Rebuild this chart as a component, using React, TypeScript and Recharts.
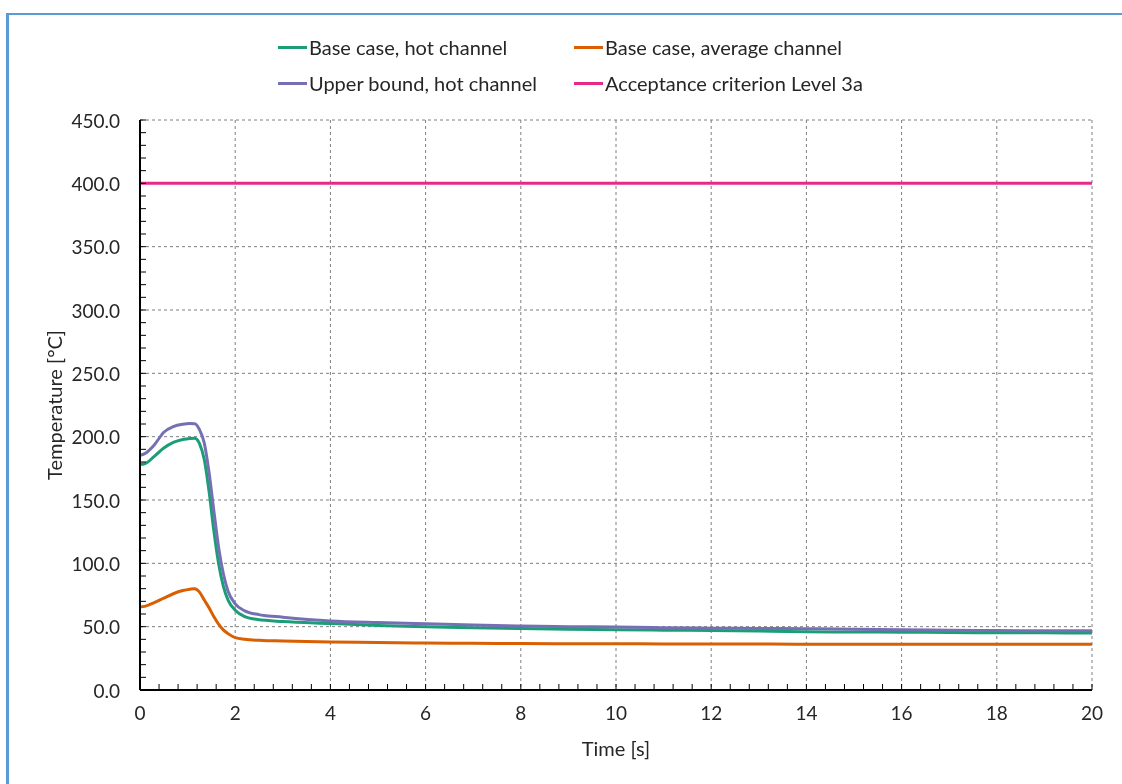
import React from "react";
import {
  LineChart,
  Line,
  XAxis,
  YAxis,
  CartesianGrid,
  Legend,
} from "recharts";

// time samples [s]
const timeS = [
  0, 0.1, 0.3, 0.5, 0.7, 0.9, 1.05, 1.15, 1.25, 1.35, 1.45, 1.55, 1.65, 1.75,
  1.85, 2.0, 2.2, 2.5, 3, 4, 5, 6, 7, 8, 9, 10, 11, 12, 13, 14, 15, 16, 17, 18,
  19, 20,
];

// temperatures [°C]
const baseHot = [
  178.1, 178.6, 184.5, 191, 195.5, 197.8, 198.6, 198.8, 194.5, 182, 157, 126,
  100, 82, 71, 63, 58, 55.5, 54, 52.5, 51, 50, 49.2, 48.5, 48, 47.6, 47.2, 47,
  46.5, 46, 45.8, 45.6, 45.4, 45.2, 45.1, 45,
];
const baseAvg = [
  65.5, 66, 69, 72.5, 76, 78.5, 79.6, 80, 77.3, 71, 65, 58, 52, 47.5, 44.5,
  41.3, 40, 39.2, 38.7, 37.9, 37.5, 37.1, 36.9, 36.7, 36.5, 36.5, 36.4, 36.4,
  36.3, 36.1, 36.1, 36.1, 36.1, 36.1, 36.1, 36.1,
];
const upperHot = [
  185.2, 186.6, 193.5, 203.5, 208, 209.8, 210.3, 210.2, 205.5, 195, 172, 142,
  113, 92, 78, 68, 62.5, 59.5, 57.5, 54.5, 53.2, 52.3, 51.3, 50.5, 50, 49.7,
  49.2, 48.8, 48.6, 48.4, 48, 47.6, 47.2, 46.9, 46.8, 46.8,
];
const acceptanceLevel = 400;

const seriesNames = [
  "Base case, hot channel",
  "Base case, average channel",
  "Upper bound, hot channel",
  "Acceptance criterion Level 3a",
];
const seriesColors = ["#1B9E77", "#D95F02", "#7570B3", "#E7298A"];

const yMajorTicks = [0, 50, 100, 150, 200, 250, 300, 350, 400, 450];
const xMajorTicks = [0, 2, 4, 6, 8, 10, 12, 14, 16, 18, 20];
const yMinorTicks = Array.from({ length: 46 }, (_, i) => i * 10);
const xMinorTicks = Array.from({ length: 51 }, (_, i) => Number((i * 0.4).toFixed(1)));

const data = timeS.map((t, i) => ({
  t,
  baseHot: baseHot[i],
  baseAvg: baseAvg[i],
  upperHot: upperHot[i],
  limit: acceptanceLevel,
}));

const FONT = "Lato, 'Open Sans', sans-serif";
const TEXT = "#262626";

const YTick = (props: any) => {
  const { x, y, payload } = props;
  const v = payload.value;
  const major = v % 50 === 0;
  return (
    <g>
      <line x1={x} x2={x + 6} y1={y} y2={y} stroke="#000" strokeWidth={1} />
      {major && (
        <text
          x={x - 20}
          y={y}
          textAnchor="end"
          dominantBaseline="central"
          fontFamily={FONT}
          fontSize={19}
          fill={TEXT}
        >
          {v.toFixed(1)}
        </text>
      )}
    </g>
  );
};

const XTick = (props: any) => {
  const { x, y, payload } = props;
  const v = payload.value;
  const major = Math.abs(v / 2 - Math.round(v / 2)) < 1e-6;
  return (
    <g>
      <line x1={x} x2={x} y1={y} y2={y - 6} stroke="#000" strokeWidth={1} />
      {major && (
        <text
          x={x}
          y={y + 22}
          textAnchor="middle"
          dominantBaseline="central"
          fontFamily={FONT}
          fontSize={19}
          fill={TEXT}
        >
          {Math.round(v)}
        </text>
      )}
    </g>
  );
};

const renderLegend = () => (
  <div
    style={{
      display: "grid",
      gridTemplateColumns: "296px 320px",
      fontFamily: FONT,
      fontSize: 20,
      color: TEXT,
    }}
  >
    {seriesNames.map((name, i) => (
      <div
        key={name}
        style={{ display: "flex", alignItems: "center", height: 36 }}
      >
        <span
          style={{
            display: "inline-block",
            width: 29,
            height: 3,
            background: seriesColors[i],
            marginRight: 2,
          }}
        />
        <span>{name}</span>
      </div>
    ))}
  </div>
);

export default function App() {
  return (
    <div style={{ position: "relative", width: 1106, height: 760 }}>
      {/* outer frame */}
      <div
        style={{
          position: "fixed",
          left: 6,
          top: 13,
          width: 3,
          height: 771,
          background: "#5B9BD5",
        }}
      />
      <div
        style={{
          position: "fixed",
          left: 6,
          top: 13,
          width: 1116,
          height: 2,
          background: "#5B9BD5",
        }}
      />
      <div style={{ position: "absolute", left: -8, top: -8, width: 1122, height: 784 }}>
        <LineChart
          width={1122}
          height={784}
          data={data}
          margin={{ top: 120, right: 30, bottom: 28, left: 30 }}
        >
          <CartesianGrid
            stroke="#7f7f7f"
            strokeDasharray="3 3"
            horizontalValues={yMajorTicks}
            verticalValues={xMajorTicks}
          />
          <XAxis
            dataKey="t"
            type="number"
            domain={[0, 20]}
            ticks={xMinorTicks}
            interval={0}
            tick={<XTick />}
            tickLine={false}
            tickSize={0}
            tickMargin={0}
            axisLine={{ stroke: "#000", strokeWidth: 2 }}
            height={66}
            label={{
              value: "Time [s]",
              position: "insideBottom",
              offset: 0,
              style: { fontFamily: FONT, fontSize: 20, fill: TEXT },
            }}
          />
          <XAxis
            xAxisId="top"
            dataKey="t"
            type="number"
            domain={[0, 20]}
            orientation="top"
            height={0}
            tick={false}
            tickLine={false}
            axisLine={{ stroke: "#000", strokeWidth: 2 }}
          />
          <YAxis
            type="number"
            domain={[0, 450]}
            ticks={yMinorTicks}
            interval={0}
            tick={<YTick />}
            tickLine={false}
            tickSize={0}
            tickMargin={0}
            axisLine={{ stroke: "#000", strokeWidth: 2 }}
            width={110}
            label={{
              value: "Temperature [°C]",
              angle: -90,
              position: "insideLeft",
              offset: 25,
              style: {
                fontFamily: FONT,
                fontSize: 20,
                fill: TEXT,
                textAnchor: "middle",
              },
            }}
          />
          <YAxis
            yAxisId="right"
            orientation="right"
            type="number"
            domain={[0, 450]}
            width={0}
            tick={false}
            tickLine={false}
            axisLine={{ stroke: "#000", strokeWidth: 2 }}
          />
          <Legend
            layout="vertical"
            align="center"
            verticalAlign="middle"
            content={renderLegend}
            wrapperStyle={{ top: 29, left: 278, width: 640 }}
          />
          <Line
            type="monotone"
            dataKey="baseHot"
            name={seriesNames[0]}
            stroke={seriesColors[0]}
            strokeWidth={3}
            dot={false}
            isAnimationActive={false}
          />
          <Line
            type="monotone"
            dataKey="baseAvg"
            name={seriesNames[1]}
            stroke={seriesColors[1]}
            strokeWidth={3}
            dot={false}
            isAnimationActive={false}
          />
          <Line
            type="monotone"
            dataKey="upperHot"
            name={seriesNames[2]}
            stroke={seriesColors[2]}
            strokeWidth={3}
            dot={false}
            isAnimationActive={false}
          />
          <Line
            type="monotone"
            dataKey="limit"
            name={seriesNames[3]}
            stroke={seriesColors[3]}
            strokeWidth={3}
            dot={false}
            isAnimationActive={false}
          />
        </LineChart>
      </div>
    </div>
  );
}
